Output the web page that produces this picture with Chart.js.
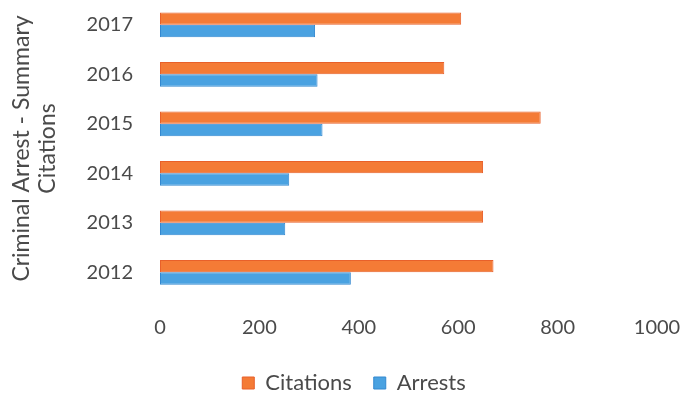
<!DOCTYPE html>
<html>
<head>
<meta charset="utf-8">
<script src="https://cdn.jsdelivr.net/npm/chart.js@4/dist/chart.umd.min.js"></script>
<style>
  html, body { margin: 0; padding: 0; background: #ffffff; }
  #wrap { width: 683px; height: 394px; }
</style>
</head>
<body>
<div id="wrap"><canvas id="chart" width="683" height="394"></canvas></div>
<script>
// Yearly totals, listed top to bottom as shown on the chart
const years = ['2017', '2016', '2015', '2014', '2013', '2012'];
const citations = [606, 572, 766, 650, 650, 671];
const arrests = [312, 317, 327, 260, 252, 384];
const xTicks = [0, 200, 400, 600, 800, 1000];
const yTitle = ['Criminal Arrest - Summary', 'Citations'];

const textColor = '#4a4a4a';
const family = 'Lato, "Open Sans", sans-serif';
const tickFont = { family: family, size: 20 };
const legendFont = { family: family, size: 22 };
const titleFont = { family: family, size: 23, lineHeight: 1.15 };

const orange = '#F47B36', orangeEdge = '#E8602A';
const blue = '#4AA2E1', blueEdge = '#3388D0';

new Chart(document.getElementById('chart'), {
  type: 'bar',
  data: {
    labels: years,
    datasets: [
      {
        label: 'Citations',
        data: citations,
        backgroundColor: orange,
        borderColor: orangeEdge,
        borderWidth: 1,
        borderSkipped: false,
        categoryPercentage: 0.5,
        barPercentage: 1.0
      },
      {
        label: 'Arrests',
        data: arrests,
        backgroundColor: blue,
        borderColor: blueEdge,
        borderWidth: 1,
        borderSkipped: false,
        categoryPercentage: 0.5,
        barPercentage: 1.0
      }
    ]
  },
  options: {
    indexAxis: 'y',
    responsive: false,
    animation: false,
    layout: { padding: { top: -3, right: 0, left: 25, bottom: -10 } },
    scales: {
      x: {
        min: 0,
        max: 1000,
        afterBuildTicks: (axis) => { axis.ticks = xTicks.map(v => ({ value: v })); },
        afterFit: (axis) => {
          axis.height = 53;
          axis.paddingTop = -3;
          axis.paddingLeft = 0;
          axis.paddingRight = 26;
        },
        grid: { display: false, drawTicks: false },
        border: { display: false },
        ticks: { color: textColor, font: tickFont, padding: 19, callback: (v) => String(v) }
      },
      y: {
        afterFit: (axis) => {
          axis.width = 135;
          axis.paddingTop = -3;
          axis.paddingBottom = -20;
        },
        grid: { display: false, drawTicks: false },
        border: { display: false },
        ticks: { color: textColor, font: tickFont, padding: 27 },
        title: {
          display: true,
          text: yTitle,
          color: textColor,
          font: titleFont,
          padding: { top: -17, bottom: 0 }
        }
      }
    },
    plugins: {
      legend: {
        position: 'bottom',
        labels: {
          color: textColor,
          font: legendFont,
          boxWidth: 12,
          boxHeight: 12,
          padding: 22,
          generateLabels: (chart) => chart.data.datasets.map((ds, i) => ({
            text: ds.label,
            fillStyle: ds.backgroundColor,
            strokeStyle: ds.borderColor,
            lineWidth: 1,
            datasetIndex: i,
            fontColor: textColor
          }))
        }
      },
      tooltip: { enabled: false }
    }
  }
});
</script>
</body>
</html>
